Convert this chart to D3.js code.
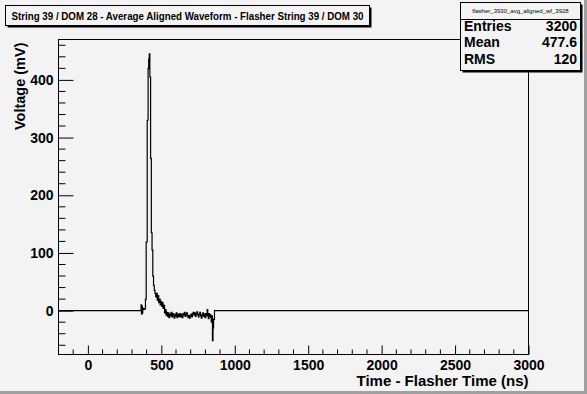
<!DOCTYPE html>
<html>
<head>
<meta charset="utf-8">
<script src="https://cdn.jsdelivr.net/npm/d3@7"></script>
<style>
  body { margin: 0; background: #f3f3f3; }
  svg { display: block; font-family: "Liberation Sans", Arial, sans-serif; font-weight: bold; }
</style>
</head>
<body>
<svg id="chart" width="587" height="394"></svg>
<script>
// waveform samples (ns, mV); outside this span the histogram is 0
const waveTimes = [360, 362, 365, 368, 371, 374, 378, 385, 392, 397, 404, 410, 414, 418, 422, 427, 432, 437, 442, 447,
  452, 457, 462, 467, 472, 477, 482, 487, 492, 497, 502, 507, 512, 517, 522, 527, 532, 537, 542, 547,
  552, 557, 562, 567, 572, 577, 582, 587, 592, 597, 602, 607, 612, 617, 622, 627, 632, 637, 642, 647,
  652, 657, 662, 667, 672, 677, 682, 687, 692, 697, 702, 707, 712, 717, 722, 727, 732, 737, 742, 747,
  752, 757, 762, 767, 772, 777, 782, 787, 792, 797, 802, 807, 812, 816, 820, 824, 828, 832, 836, 840,
  844, 848, 852, 856, 862];
const waveValues = [0, 10, -6, 8, -4, 4, 2, 3, 20, 119, 330, 420, 436, 445, 405, 264, 135, 105, 60, 44,
  35, 30, 24, 30, 18, 26, 14, 20, 10, 16, 8, 14, 4, 9, -4, 2, -8, -3, -10, -4,
  -12, -6, -9, -3, -11, -5, -8, -13, -6, -10, -4, -12, -7, -10, -5, -11, -6, -9, -12, -5,
  -8, -3, -10, -7, -4, -9, -12, -8, -13, -9, -6, -11, -5, -3, -8, -4, -10, -6, -2, -7,
  -11, -6, -3, -9, -13, -7, -4, -10, -6, -12, -5, -9, 2, -8, -14, -5, -10, -7, -12, -20,
  -9, -52, -30, -15, 0];
const xRange = [-200, 3000];
const yRange = [-76, 470];
const xTicks = [0, 500, 1000, 1500, 2000, 2500, 3000];
const yTicks = [0, 100, 200, 300, 400];
const titleText = "String 39 / DOM 28 - Average Aligned Waveform - Flasher String 39 / DOM 30";
const statsName = "flasher_3930_avg_aligned_wf_3928";
const statsRows = [["Entries", "3200"], ["Mean", "477.6"], ["RMS", "120"]];

const svg = d3.select("#chart");
const frame = { left: 58.5, right: 528.5, top: 39.5, bottom: 354.5 };

// canvas bevel
svg.append("rect").attr("x", 584).attr("y", 0).attr("width", 3).attr("height", 394).attr("fill", "#a0a0a0");
svg.append("rect").attr("x", 0).attr("y", 391).attr("width", 587).attr("height", 3).attr("fill", "#a0a0a0");

const x = d3.scaleLinear().domain(xRange).range([frame.left, frame.right]);
const y = d3.scaleLinear().domain(yRange).range([frame.bottom, frame.top]);

// frame
svg.append("rect")
  .attr("x", frame.left).attr("y", frame.top)
  .attr("width", frame.right - frame.left).attr("height", frame.bottom - frame.top)
  .attr("fill", "none").attr("stroke", "#000").attr("stroke-width", 1);

// x axis
const xAxis = d3.axisBottom(x).tickValues(xTicks).tickSize(-9).tickPadding(15).tickFormat(d3.format("d"));
const gx = svg.append("g").attr("transform", `translate(0,${frame.bottom})`).call(xAxis);
gx.select(".domain").remove();
gx.selectAll("text").attr("font-size", 14).attr("font-weight", "bold").attr("font-family", "Liberation Sans, Arial").attr("dy", "0").attr("fill", "#000");
gx.selectAll("line").attr("stroke", "#000");
const xMinor = d3.range(xRange[0], xRange[1] + 1, 100).filter(d => d % 500 !== 0);
svg.append("g").selectAll("line").data(xMinor).join("line")
  .attr("x1", d => x(d)).attr("x2", d => x(d))
  .attr("y1", frame.bottom).attr("y2", frame.bottom - 5)
  .attr("stroke", "#000");

// y axis
const yAxis = d3.axisLeft(y).tickValues(yTicks).tickSize(-15).tickPadding(5).tickFormat(d3.format("d"));
const gy = svg.append("g").attr("transform", `translate(${frame.left},0)`).call(yAxis);
gy.select(".domain").remove();
gy.selectAll("text").attr("font-size", 14).attr("font-weight", "bold").attr("font-family", "Liberation Sans, Arial").attr("fill", "#000");
gy.selectAll("line").attr("stroke", "#000");
const yMinor = d3.range(-60, 461, 20).filter(d => d % 100 !== 0);
svg.append("g").selectAll("line").data(yMinor).join("line")
  .attr("x1", frame.left).attr("x2", frame.left + 7)
  .attr("y1", d => y(d)).attr("y2", d => y(d))
  .attr("stroke", "#000");

// histogram line
const points = [[xRange[0], 0]].concat(waveTimes.map((t, i) => [t, waveValues[i]]), [[xRange[1], 0]]);
const line = d3.line().x(d => x(d[0])).y(d => y(d[1])).curve(d3.curveStepAfter);
svg.append("path").datum(points)
  .attr("d", line).attr("fill", "none").attr("stroke", "#000").attr("stroke-width", 1.2);

// axis titles
svg.append("text").attr("x", frame.right).attr("y", 386)
  .attr("text-anchor", "end").attr("font-size", 15).text("Time - Flasher Time (ns)");
svg.append("text").attr("transform", `translate(25,${frame.top + 3}) rotate(-90)`)
  .attr("text-anchor", "end").attr("font-size", 14.5).text("Voltage (mV)");

// title box
function pave(x0, y0, w, h) {
  svg.append("rect").attr("x", x0 + 2).attr("y", y0 + 2).attr("width", w).attr("height", h).attr("fill", "#000");
  svg.append("rect").attr("x", x0).attr("y", y0).attr("width", w).attr("height", h)
    .attr("fill", "#f3f3f3").attr("stroke", "#000").attr("stroke-width", 1);
}
pave(5.5, 5.5, 364, 20);
svg.append("text").attr("x", 11.5).attr("y", 19.5).attr("font-size", 10.5)
  .attr("textLength", 352).attr("lengthAdjust", "spacingAndGlyphs").text(titleText);

// stats box
pave(460.5, 2.5, 120, 68);
svg.append("line").attr("x1", 460.5).attr("x2", 580.5).attr("y1", 19.5).attr("y2", 19.5).attr("stroke", "#000");
svg.append("text").attr("x", 520.5).attr("y", 13).attr("text-anchor", "middle")
  .attr("font-size", 6).attr("font-weight", "normal").text(statsName);
svg.append("g").selectAll("text.lab").data(statsRows).join("text")
  .attr("x", 464).attr("y", (d, i) => 31 + i * 16.3).attr("font-size", 14).text(d => d[0]);
svg.append("g").selectAll("text.val").data(statsRows).join("text")
  .attr("x", 577).attr("y", (d, i) => 31 + i * 16.3).attr("text-anchor", "end").attr("font-size", 14).text(d => d[1]);
</script>
</body>
</html>
